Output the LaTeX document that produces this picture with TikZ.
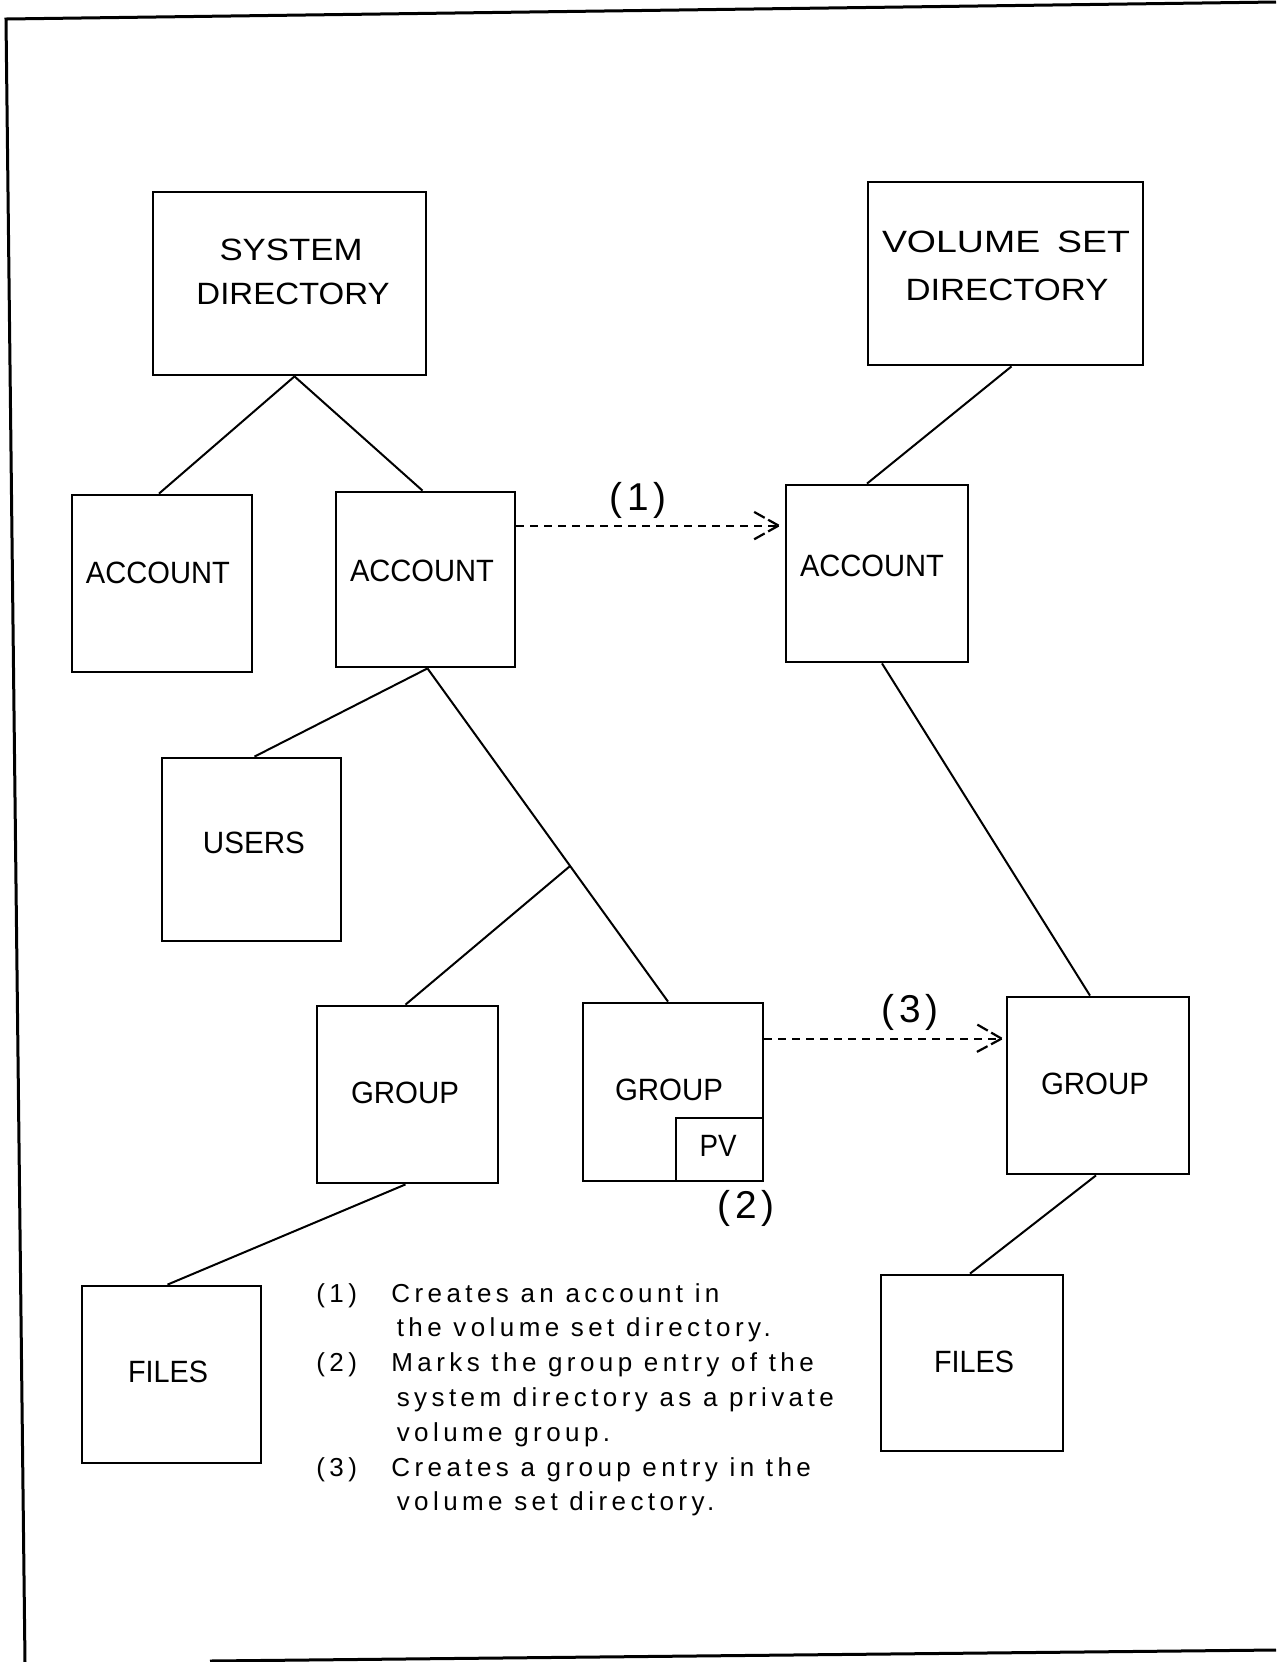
\documentclass[tikz,border=0pt]{standalone}
\usepackage{fontspec}
\usepackage{graphicx}
\setmainfont{Liberation Sans}
\newfontfamily\tagfont[LetterSpace=12]{Liberation Sans}
\newfontfamily\notefont[LetterSpace=17]{Liberation Sans}
\usetikzlibrary{calc}
% set a label at a given width, keeping its natural height
\newcommand\wide[2]{\resizebox{#1}{\height}{#2}}

\begin{document}
\begin{tikzpicture}[x=0.5pt,y=-0.5pt,
  box/.style 2 args={draw,line width=1.4pt,inner sep=0pt,
    minimum width=#1,minimum height=#2},
  lbl/.style={inner sep=0pt,font=\fontsize{15.4pt}{18pt}\selectfont,
    text height=11pt,text depth=0pt},
  tag/.style={inner sep=0pt,font=\tagfont\fontsize{19.4pt}{22pt}\selectfont,
    text height=13.8pt,text depth=0pt},
  link/.style={line width=1pt},
  flow/.style={line width=1.1pt,dash pattern=on 4pt off 3pt},
  barb/.style={line width=1.1pt,dash pattern=on 6pt off 2pt},
  frame/.style={line width=1.5pt}]

\useasboundingbox (0,0) rectangle (1276,1662);

% sheet border
\coordinate (fTL) at (6,19);
\coordinate (fTR) at (1276,2);
\coordinate (fBL) at (25,1662);
\coordinate (fBS) at (210,1661);
\coordinate (fBR) at (1276,1650);
\draw[frame] (fBL) -- (fTL) -- (fTR);
\draw[frame] (fBS) -- (fBR);

% directory boxes
\node[box={136.5pt}{91.5pt}] (sys) at (289.5,283.5) {};
\node[lbl] (sys1) at (291,249) {\wide{71.5pt}{SYSTEM}};
\node[lbl] (sys2) at (293,293) {\wide{96.5pt}{DIRECTORY}};

\node[box={137.5pt}{91.5pt}] (vol) at (1005.5,273.5) {};
\node[lbl] (vol1) at (1006,241) {\wide{124pt}{VOLUME\hspace{0.45em}SET}};
\node[lbl] (vol2) at (1007,289) {\wide{101.5pt}{DIRECTORY}};

\node[box={90pt}{88.5pt}] (acc1) at (162,583.5) {};
\node[lbl] (acc1t) at (158,572) {\wide{72pt}{ACCOUNT}};
\node[box={89.5pt}{87.5pt}] (acc2) at (425.5,579.5) {};
\node[lbl] (acc2t) at (422,570) {\wide{72pt}{ACCOUNT}};
\node[box={91pt}{88.5pt}] (acc3) at (877,573.5) {};
\node[lbl] (acc3t) at (872,565) {\wide{72pt}{ACCOUNT}};

\node[box={89.5pt}{91.5pt}] (users) at (251.5,849.5) {};
\node[lbl] (userst) at (254,842.5) {\wide{51pt}{USERS}};

\node[box={90.5pt}{88.5pt}] (grp1) at (407.5,1094.5) {};
\node[lbl] (grp1t) at (405,1092) {\wide{54pt}{GROUP}};
\node[box={90pt}{89pt}] (grp2) at (673,1092) {};
\node[lbl] (grp2t) at (669,1089) {\wide{54pt}{GROUP}};
\node[box={43.5pt}{31.5pt},anchor=south east] (pv) at (grp2.south east) {};
\node[lbl] (pvt) at (718,1145) {\wide{18.5pt}{PV}};
\node[box={91pt}{88.5pt}] (grp3) at (1098,1085.5) {};
\node[lbl] (grp3t) at (1095,1083) {\wide{54pt}{GROUP}};

\node[box={89.5pt}{88.5pt}] (files1) at (171.5,1374.5) {};
\node[lbl] (files1t) at (168,1371) {\wide{40pt}{FILES}};
\node[box={91pt}{88pt}] (files2) at (972,1363) {};
\node[lbl] (files2t) at (974,1361) {\wide{40pt}{FILES}};

% tree connectors
\draw[link] ($(sys.south)+(5,0)$) -- ($(acc1.north)+(-3,0)$);
\draw[link] ($(sys.south)+(5,0)$) -- ($(acc2.north)+(-3,0)$);
\draw[link] ($(vol.south)+(6,0)$) -- ($(acc3.north)+(-10,0)$);
\draw[link] ($(acc2.south)+(2,0)$) -- ($(users.north)+(3,0)$);
\draw[link] ($(acc2.south)+(2,0)$) -- ($(grp2.north)+(-5,0)$);
\coordinate (fork) at ($($(acc2.south)+(2,0)$)!0.593!($(grp2.north)+(-5,0)$)$);
\draw[link] (fork) -- ($(grp1.north)+(-2,0)$);
\draw[link] ($(acc3.south)+(5,0)$) -- ($(grp3.north)+(-8,0)$);
\draw[link] ($(grp1.south)+(-2,0)$) -- ($(files1.north)+(-4,0)$);
\draw[link] ($(grp3.south)+(-2,0)$) -- ($(files2.north)+(-2,0)$);

% dashed transfers between the directories
\coordinate (f1s) at ($(acc2.north east)+(0,35)$);
\coordinate (f1e) at ($(acc3.west |- f1s)+(-6,0)$);
\draw[flow] (f1s) -- (f1e);
\draw[barb] (f1e) -- ++(-25,-14);
\draw[barb] (f1e) -- ++(-25,14);
\node[tag] (t1) at (638,497) {(1)};

\coordinate (f3s) at ($(grp2.north east)+(0,37)$);
\coordinate (f3e) at ($(grp3.west |- f3s)+(-4,0)$);
\draw[flow] (f3s) -- (f3e);
\draw[barb] (f3e) -- ++(-26,-15);
\draw[barb] (f3e) -- ++(-26,14);
\node[tag] (t3) at (910,1009) {(3)};

\node[tag] (t2) at (746,1205) {(2)};

% notes
\node[inner sep=0pt,anchor=base west,font=\notefont\fontsize{13pt}{17.4pt}\selectfont] (notes) at (316,1302) {%
  \begin{tabular}[t]{@{}p{37.5pt}@{}l@{}}
  (1) & Creates an account in\\
      & \hspace{2.7pt}the volume set directory.\\
  (2) & Marks the group entry of the\\
      & \hspace{2.7pt}system directory as a private\\
      & \hspace{2.7pt}volume group.\\
  (3) & Creates a group entry in the\\
      & \hspace{2.7pt}volume set directory.
  \end{tabular}};
\end{tikzpicture}
\end{document}
